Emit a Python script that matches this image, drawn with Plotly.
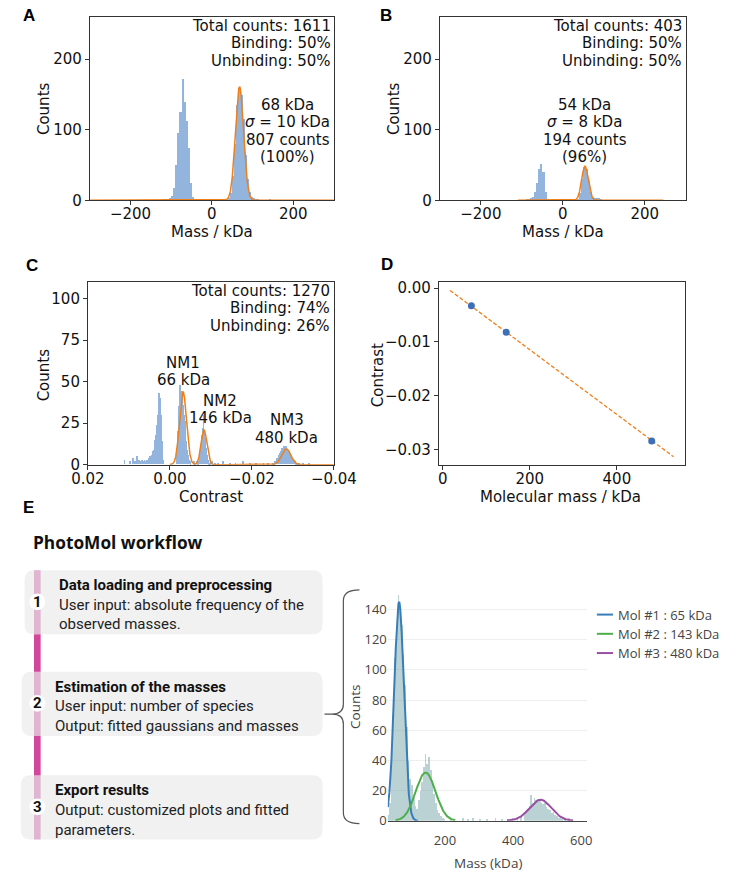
import numpy as np
import plotly.graph_objects as go

W, H = 740, 884
def fx(x): return x / W
def fy(y): return 1 - y / H

# ---------------- Panel A (mass histogram, 5 kDa bins) ----------------
a_bin_width = 5
a_bin_centres = [-117.5, -112.5, -107.5, -102.5, -97.5, -92.5, -87.5, -82.5, -77.5, -72.5,
                 -67.5, -62.5, -57.5, -52.5, -47.5,
                 42.5, 47.5, 52.5, 57.5, 62.5, 67.5, 72.5, 77.5, 82.5, 87.5, 92.5, 97.5,
                 102.5, 107.5, 112.5, 142.5]
a_counts = [1, 2, 2, 3, 6, 18, 50, 95, 126, 172, 140, 112, 75, 25, 5,
            3, 10, 35, 80, 135, 160, 150, 115, 65, 30, 12, 5, 3, 2, 1, 2]
a_fit = dict(mean=68, sigma=10, counts=807, lo=-300, hi=300)
a_stats = ["Total counts: 1611", "Binding: 50%", "Unbinding: 50%"]
a_peak_text = ["68 kDa", "<i>σ</i> = 10 kDa", "807 counts", "(100%)"]

# ---------------- Panel B ----------------
b_bin_width = 5
b_bin_centres = [-87.5, -82.5, -77.5, -72.5, -67.5, -62.5, -57.5, -52.5, -47.5, -42.5, -37.5,
                 37.5, 42.5, 47.5, 52.5, 57.5, 62.5, 67.5, 72.5, 77.5, 82.5, 87.5, 92.5]
b_counts = [1, 2, 3, 5, 12, 25, 45, 52, 40, 12, 2,
            2, 10, 30, 47, 44, 28, 12, 5, 3, 3, 4, 1]
b_fit = dict(mean=54, sigma=8, counts=194, lo=-110, hi=245)
b_stats = ["Total counts: 403", "Binding: 50%", "Unbinding: 50%"]
b_peak_text = ["54 kDa", "<i>σ</i> = 8 kDa", "194 counts", "(96%)"]

# ---------------- Panel C (contrast histogram, bins of 0.0002) ----------------
c_bin_width = 0.0002
c_seg_unbinding_start = 0.0058
c_seg_unbinding = [2, 3, 2, 4, 3, 5, 4, 6, 8, 9, 12, 15, 18, 24, 30, 38, 43, 40, 30, 14, 3]
c_seg_nm1_start = -0.0016
c_seg_nm1 = [2, 8, 20, 35, 48, 42, 44, 40, 36, 30, 26, 20, 14, 9, 6, 3, 2, 1]
c_seg_nm2_start = -0.0068
c_seg_nm2 = [1, 2, 4, 8, 12, 18, 22, 30, 20, 16, 10, 6, 3, 2, 1, 1]
c_seg_nm3_start = -0.0252
c_seg_nm3 = [1, 1, 2, 2, 3, 4, 4, 6, 7, 8, 9, 10, 9, 11, 10, 10, 11, 9, 8, 8, 7, 5, 5, 4,
             3, 3, 2, 2, 1, 1, 1, 1, 1]
c_sparse_centres = [0.0111, 0.0098, 0.0090, 0.0086, 0.0080, 0.0076, 0.0072, 0.0068, 0.0064,
                    0.0062, -0.0058, -0.0062, -0.0066, -0.0102, -0.0110, -0.0118, -0.0130,
                    -0.0146, -0.0160, -0.0178, -0.0195, -0.0210, -0.0228, -0.0240, -0.0325,
                    -0.0340]
c_sparse_counts = [3, 2, 4, 2, 5, 3, 2, 3, 2, 3, 2, 1, 2, 2, 1, 1, 2, 1, 1, 2, 1, 1, 1, 1, 1, 1]
c_fit_means = [-0.0032, -0.0083, -0.0284]
c_fit_sigmas = [0.00085, 0.0007, 0.0011]
c_fit_heights = [44, 21, 9.5]
c_fit_range = [0.0, -0.04]
c_stats = ["Total counts: 1270", "Binding: 74%", "Unbinding: 26%"]
c_peak_names = ["NM1", "NM2", "NM3"]
c_peak_masses = ["66 kDa", "146 kDa", "480 kDa"]

# ---------------- Panel D (calibration) ----------------
d_masses = [66, 146, 480]
d_contrasts = [-0.0033, -0.0082, -0.0284]
d_fit_slope = -6.02e-5
d_fit_intercept = 0.00059
d_fit_mass_range = [17, 530]

# ---------------- Panel E (PhotoMol output) ----------------
e_bin_centres = [32.5, 37.5, 42.5, 47.5, 52.5, 57.5, 62.5, 67.5, 72.5, 77.5, 82.5, 87.5,
                 92.5, 97.5, 102.5, 107.5, 112.5, 117.5, 122.5, 127.5, 132.5, 137.5, 142.5,
                 147.5, 152.5, 157.5, 162.5, 167.5, 172.5, 177.5, 182.5, 187.5, 192.5, 197.5,
                 217.5, 252.5, 267.5, 282.5, 302.5, 322.5, 347.5, 367.5, 382.5, 397.5, 412.5,
                 422.5, 432.5, 437.5, 442.5, 447.5, 452.5, 457.5, 462.5, 467.5, 472.5, 477.5,
                 482.5, 487.5, 492.5, 497.5, 502.5, 507.5, 512.5, 517.5, 522.5, 527.5, 532.5,
                 537.5, 542.5, 552.5, 562.5, 572.5]
e_counts = [4, 12, 38, 70, 108, 128, 150, 142, 130, 110, 90, 62,
            40, 28, 24, 15, 10, 8, 14, 20, 26, 36, 44,
            38, 42, 34, 26, 18, 12, 7, 5, 3, 2, 1,
            1, 2, 1, 2, 1, 1, 2, 1, 1, 2, 2,
            3, 4, 6, 8, 10, 17, 12, 15, 14, 13, 14,
            12, 11, 12, 9, 8, 7, 5, 6, 4, 3, 2,
            2, 1, 1, 2, 1]
e_bin_width = 5
e_mol_names = ["Mol #1 : 65 kDa", "Mol #2 : 143 kDa", "Mol #3 : 480 kDa"]
e_mol_means = [65, 143, 480]
e_mol_sigmas = [14, 29, 32]
e_mol_heights = [145, 32, 14]
e_mol_ranges = [[32, 120], [55, 230], [382, 576]]
e_mol_colors = ["#377EB8", "#4DAF4A", "#984EA3"]

workflow_steps = [
    ("1", "Data loading and preprocessing",
     ["User input: absolute frequency of the", "observed masses."]),
    ("2", "Estimation of the masses",
     ["User input: number of species", "Output: fitted gaussians and masses"]),
    ("3", "Export results",
     ["Output: customized plots and fitted", "parameters."]),
]

# ---------------- styles ----------------
BLUE_BAR = "#93b5dd"
ORANGE = "#f07f1a"
PT_BLUE = "#3d6fb6"
MPL_FONT = "DejaVu Sans"
FS = 15
SPINE = "#333333"


def gauss(x, mu, s, h):
    return h * np.exp(-0.5 * ((x - mu) / s) ** 2)


fig = go.Figure()
ann = []
shapes = []


def text(x, y, t, size=FS, family=MPL_FONT, xanchor="center", color="#111", angle=0, **kw):
    ann.append(dict(x=fx(x), y=fy(y), xref="paper", yref="paper", text=t, showarrow=False,
                    xanchor=xanchor, yanchor="middle", textangle=angle,
                    font=dict(family=family, size=size, color=color), **kw))


def mpl_axes(n, xdom, ydom, xr, yr, xt, xtt, yt, ytt):
    xa = dict(domain=[fx(xdom[0]), fx(xdom[1])], range=xr, tickvals=xt, ticktext=xtt,
              showline=True, linecolor=SPINE, linewidth=1, mirror=True, ticks="outside",
              ticklen=4, tickwidth=1, tickcolor=SPINE, showgrid=False, zeroline=False,
              ticklabelstandoff=-4,
              tickfont=dict(family=MPL_FONT, size=FS, color="#111"),
              anchor="y" + ("" if n == 1 else str(n)))
    ya = dict(domain=[fy(ydom[1]), fy(ydom[0])], range=yr, tickvals=yt, ticktext=ytt,
              showline=True, linecolor=SPINE, linewidth=1, mirror=True, ticks="outside",
              ticklen=4, tickwidth=1, tickcolor=SPINE, showgrid=False, zeroline=False,
              tickfont=dict(family=MPL_FONT, size=FS, color="#111"),
              anchor="x" + ("" if n == 1 else str(n)))
    return xa, ya


layout_axes = {}

# ---- Panel A ----
xa, ya = mpl_axes(1, (77, 335), (14, 200), [-300, 300], [0, 260],
                  [-200, 0, 200], ["−200", "0", "200"], [0, 100, 200], ["0", "100", "200"])
layout_axes["xaxis"], layout_axes["yaxis"] = xa, ya
fig.add_trace(go.Bar(x=a_bin_centres, y=a_counts, width=a_bin_width, marker=dict(color=BLUE_BAR, line_width=0),
                     xaxis="x", yaxis="y", showlegend=False))
xs = np.linspace(a_fit["lo"], a_fit["hi"], 1200)
amp = a_fit["counts"] * a_bin_width / (a_fit["sigma"] * np.sqrt(2 * np.pi))
fig.add_trace(go.Scatter(x=xs, y=gauss(xs, a_fit["mean"], a_fit["sigma"], amp), mode="lines",
                         line=dict(color=ORANGE, width=1.5), xaxis="x", yaxis="y", showlegend=False))

# ---- Panel B ----
xa, ya = mpl_axes(2, (447, 707), (14, 200), [-300, 300], [0, 260],
                  [-200, 0, 200], ["−200", "0", "200"], [0, 100, 200], ["0", "100", "200"])
layout_axes["xaxis2"], layout_axes["yaxis2"] = xa, ya
fig.add_trace(go.Bar(x=b_bin_centres, y=b_counts, width=b_bin_width, marker=dict(color=BLUE_BAR, line_width=0),
                     xaxis="x2", yaxis="y2", showlegend=False))
xs = np.linspace(b_fit["lo"], b_fit["hi"], 1200)
amp = b_fit["counts"] * b_bin_width / (b_fit["sigma"] * np.sqrt(2 * np.pi))
fig.add_trace(go.Scatter(x=xs, y=gauss(xs, b_fit["mean"], b_fit["sigma"], amp), mode="lines",
                         line=dict(color=ORANGE, width=1.5), xaxis="x2", yaxis="y2", showlegend=False))

# ---- Panel C ----
xa, ya = mpl_axes(3, (75, 335), (283, 468), [0.02, -0.04], [0, 110],
                  [0.02, 0.0, -0.02, -0.04], ["0.02", "0.00", "−0.02", "−0.04"],
                  [0, 25, 50, 75, 100], ["0", "25", "50", "75", "100"])
layout_axes["xaxis3"], layout_axes["yaxis3"] = xa, ya
c_x, c_y = [], []
for start, seg in [(c_seg_unbinding_start, c_seg_unbinding), (c_seg_nm1_start, c_seg_nm1),
                   (c_seg_nm2_start, c_seg_nm2), (c_seg_nm3_start, c_seg_nm3)]:
    for i, v in enumerate(seg):
        c_x.append(start - i * c_bin_width)
        c_y.append(v)
c_x += c_sparse_centres
c_y += c_sparse_counts
fig.add_trace(go.Bar(x=c_x, y=c_y, width=c_bin_width, marker=dict(color=BLUE_BAR, line_width=0),
                     xaxis="x3", yaxis="y3", showlegend=False))
xs = np.linspace(c_fit_range[0], c_fit_range[1], 2000)
ys = sum(gauss(xs, m, s, h) for m, s, h in zip(c_fit_means, c_fit_sigmas, c_fit_heights))
fig.add_trace(go.Scatter(x=xs, y=ys, mode="lines", line=dict(color=ORANGE, width=1.5),
                         xaxis="x3", yaxis="y3", showlegend=False))

# ---- Panel D ----
xa, ya = mpl_axes(4, (446, 706), (283, 468), [-8.6, 556], [-0.0328, 0.0011],
                  [0, 200, 400], ["0", "200", "400"],
                  [0.0, -0.01, -0.02, -0.03], ["0.00", "−0.01", "−0.02", "−0.03"])
layout_axes["xaxis4"], layout_axes["yaxis4"] = xa, ya
fx_line = np.array(d_fit_mass_range, dtype=float)
fig.add_trace(go.Scatter(x=fx_line, y=d_fit_slope * fx_line + d_fit_intercept, mode="lines",
                         line=dict(color=ORANGE, width=1.3, dash="4px,2px"),
                         xaxis="x4", yaxis="y4", showlegend=False))
fig.add_trace(go.Scatter(x=d_masses, y=d_contrasts, mode="markers",
                         marker=dict(color=PT_BLUE, size=7), xaxis="x4", yaxis="y4", showlegend=False))

# ---- Panel E chart ----
layout_axes["xaxis5"] = dict(domain=[fx(392), fx(603)], range=[32, 618], anchor="y5",
                             tickvals=[200, 400, 600], showline=True, linecolor="#444", linewidth=1,
                             showgrid=False, zeroline=False, ticks="outside", ticklen=8,
                             tickcolor="rgba(0,0,0,0)",
                             tickfont=dict(family="Open Sans", size=13, color="#444"))
layout_axes["yaxis5"] = dict(domain=[fy(829), fy(598)], range=[0, 151], anchor="x5",
                             tickvals=[0, 20, 40, 60, 80, 100, 120, 140], showline=False,
                             showgrid=True, gridcolor="#efefef", gridwidth=1, zeroline=False,
                             ticks="", tickfont=dict(family="Open Sans", size=13, color="#444"))
fig.add_trace(go.Bar(x=e_bin_centres, y=e_counts, width=e_bin_width,
                     marker=dict(color="rgba(120,165,170,0.5)", line_width=0),
                     xaxis="x5", yaxis="y5", showlegend=False))
for name, m, s, h, r, col in zip(e_mol_names, e_mol_means, e_mol_sigmas, e_mol_heights,
                                 e_mol_ranges, e_mol_colors):
    xs = np.linspace(r[0], r[1], 400)
    fig.add_trace(go.Scatter(x=xs, y=gauss(xs, m, s, h), mode="lines", name=name,
                             line=dict(color=col, width=2), xaxis="x5", yaxis="y5",
                             showlegend=False))

# manual legend for E
for i, (name, col) in enumerate(zip(e_mol_names, e_mol_colors)):
    yy = 620 + i * 19.5
    shapes.append(dict(type="line", xref="paper", yref="paper", x0=fx(613), x1=fx(630),
                       y0=fy(yy), y1=fy(yy), line=dict(color=col, width=2)))
    text(633, yy, name, size=13, family="Open Sans", xanchor="left", color="#444")

# ---------------- texts for A-D ----------------
panel_letters = [("A", 4, 13), ("B", 382, 13), ("C", 7, 266), ("D", 383, 265), ("E", 4, 511)]
for t, x, y in panel_letters:
    text(x, y, "<b>%s</b>" % t, size=17, family="Liberation Sans", xanchor="left", color="#000")

for stats, xr, ys0 in [(a_stats, 334, 23.5), (b_stats, 705, 23.5), (c_stats, 333, 292)]:
    for i, s in enumerate(stats):
        text(xr, ys0 + i * 17.5, s, xanchor="right")

for lines, xc in [(a_peak_text, 286), (b_peak_text, 600)]:
    for i, s in enumerate(lines):
        text(xc, 103.5 + i * 17.5, s)

c_label_pos = [(176, 365), (215, 403.5), (285, 423)]
for (xc, yc), nm, ms in zip(c_label_pos, c_peak_names, c_peak_masses):
    text(xc, yc, nm)
    text(xc, yc + 17.5, ms)

text(28, 107, "Counts", angle=-90)
text(206, 232, "Mass / kDa")
text(398, 107, "Counts", angle=-90)
text(577, 232, "Mass / kDa")
text(28, 377, "Counts", angle=-90)
text(205, 501, "Contrast")
text(382, 377, "Contrast", angle=-90)
text(575, 501, "Molecular mass / kDa")

# E chart axis titles
text(358, 714, "Counts", size=13.5, family="Open Sans", color="#444", angle=-90)
text(498, 872, "Mass (kDa)", size=13.5, family="Open Sans", color="#444")

# ---------------- workflow ----------------
text(15, 547, "<b>PhotoMol workflow</b>", size=17.3, family="Open Sans", xanchor="left", color="#111")


def P(x, y):
    return "%.5f,%.5f" % (fx(x), fy(y))


def rounded_rect(x0, y0, x1, y1, r):
    return ("M " + P(x0 + r, y0) + " L " + P(x1 - r, y0) + " Q " + P(x1, y0) + " " + P(x1, y0 + r) +
            " L " + P(x1, y1 - r) + " Q " + P(x1, y1) + " " + P(x1 - r, y1) +
            " L " + P(x0 + r, y1) + " Q " + P(x0, y1) + " " + P(x0, y1 - r) +
            " L " + P(x0, y0 + r) + " Q " + P(x0, y0) + " " + P(x0 + r, y0) + " Z")


box_geom = [(8, 575, 323, 640, 42), (5, 678, 323, 743, 38), (4, 783, 323, 848, 38)]
LIGHT_PINK = "#e0b5d2"
DARK_PINK = "#d2479b"
for (x0, y0, x1, y1, tx), (num, title, lines) in zip(box_geom, workflow_steps):
    shapes.append(dict(type="path", xref="paper", yref="paper", path=rounded_rect(x0, y0, x1, y1, 10),
                       fillcolor="#f1f1f1", line=dict(width=0), layer="below"))
    shapes.append(dict(type="rect", xref="paper", yref="paper", x0=fx(18), x1=fx(25),
                       y0=fy(y1), y1=fy(y0), fillcolor=LIGHT_PINK, line=dict(width=0)))
    cy = y0 + 32
    shapes.append(dict(type="circle", xref="paper", yref="paper", x0=fx(21.5 - 8.5), x1=fx(21.5 + 8.5),
                       y0=fy(cy + 8.5), y1=fy(cy - 8.5), fillcolor="white", line=dict(width=0)))
    text(21.5, cy, "<b>%s</b>" % num, size=15, family="Roboto", color="#111")
    text(tx, y0 + 15, "<b>%s</b>" % title, size=15, family="Roboto", xanchor="left", color="#111")
    for i, ln in enumerate(lines):
        text(tx, y0 + 35 + 20 * i, ln, size=15, family="Roboto", xanchor="left", color="#222")

for y0, y1 in [(640, 678), (743, 783)]:
    shapes.append(dict(type="rect", xref="paper", yref="paper", x0=fx(18), x1=fx(25),
                       y0=fy(y1), y1=fy(y0), fillcolor=DARK_PINK, line=dict(width=0)))

brace = ("M " + P(362, 595) + " Q " + P(345, 595) + " " + P(345, 606) + " L " + P(345, 711) +
         " Q " + P(345, 721) + " " + P(333, 721) + " L " + P(325, 721) +
         " M " + P(333, 721) + " Q " + P(345, 721) + " " + P(345, 731) + " L " + P(345, 821) +
         " Q " + P(345, 832) + " " + P(362, 832))
shapes.append(dict(type="path", xref="paper", yref="paper", path=brace,
                   line=dict(color="#555", width=1.2)))

fig.update_layout(width=W, height=H, margin=dict(l=0, r=0, t=0, b=0), autosize=False,
                  paper_bgcolor="white", plot_bgcolor="rgba(0,0,0,0)", barmode="overlay",
                  bargap=0, annotations=ann, shapes=shapes, **layout_axes)

fig.write_html("out.html", config={"displayModeBar": False},
               post_script="document.body.style.margin='0';document.body.style.overflow='hidden';")
